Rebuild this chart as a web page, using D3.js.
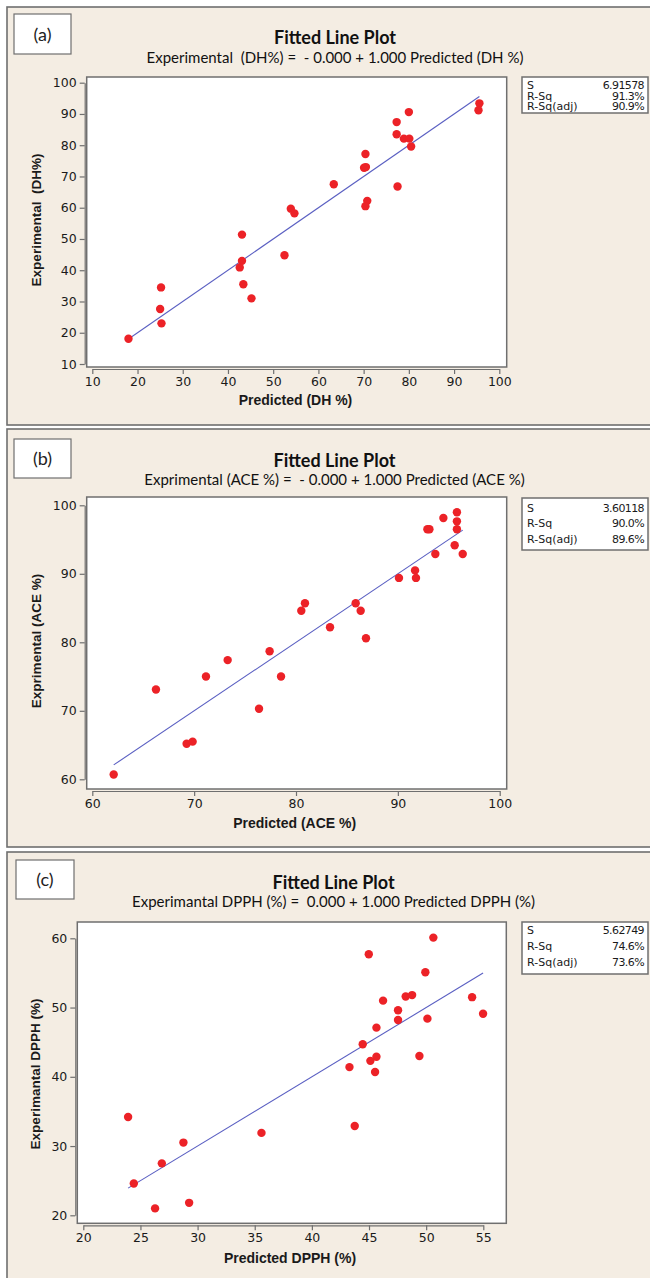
<!DOCTYPE html>
<html>
<head>
<meta charset="utf-8">
<script src="https://cdn.jsdelivr.net/npm/d3@7"></script>
<style>
  html, body { margin: 0; padding: 0; background: #ffffff; }
  svg { display: block; }
</style>
</head>
<body>
<svg id="chart" width="650" height="1278"></svg>
<script>
// ---- Panel (a): degree of hydrolysis ----
const dhPredicted    = [18.0, 25.2, 25.0, 25.3, 43.1, 43.1, 42.6, 43.4, 45.2, 52.5, 53.9, 54.7, 63.4, 70.4, 70.1, 70.5, 70.8, 70.4, 77.5, 77.3, 77.3, 80.0, 78.9, 80.1, 80.5, 95.6, 95.4];
const dhExperimental = [18.1, 34.5, 27.6, 23.0, 51.4, 43.0, 40.9, 35.5, 31.0, 44.8, 59.7, 58.2, 67.5, 77.2, 72.8, 73.0, 62.2, 60.5, 66.8, 87.4, 83.5, 90.6, 82.1, 82.1, 79.6, 93.4, 91.2];
const dhXTicks = [10, 20, 30, 40, 50, 60, 70, 80, 90, 100];
const dhYTicks = [10, 20, 30, 40, 50, 60, 70, 80, 90, 100];
const dhStats  = ["6.91578", "91.3%", "90.9%"];

// ---- Panel (b): ACE inhibition ----
const acePredicted    = [62.1, 66.25, 69.26, 69.85, 71.16, 73.29, 76.37, 77.41, 78.53, 80.52, 80.88, 83.34, 85.86, 86.35, 86.87, 90.11, 91.69, 91.78, 92.9, 93.1, 93.68, 94.47, 95.8, 95.8, 95.8, 95.58, 96.37];
const aceExperimental = [60.7, 73.1, 65.2, 65.5, 75.0, 77.4, 70.3, 78.7, 75.0, 84.6, 85.7, 82.2, 85.7, 84.6, 80.6, 89.4, 90.5, 89.4, 96.5, 96.5, 92.9, 98.15, 98.98, 97.66, 96.5, 94.16, 92.9];
const aceXTicks = [60, 70, 80, 90, 100];
const aceYTicks = [60, 70, 80, 90, 100];
const aceStats  = ["3.60118", "90.0%", "89.6%"];

// ---- Panel (c): DPPH scavenging ----
const dpphPredicted    = [23.92, 24.42, 26.28, 26.87, 28.76, 29.26, 35.59, 43.29, 43.75, 44.45, 44.98, 45.12, 45.65, 45.53, 45.65, 46.23, 47.54, 47.54, 48.21, 48.77, 49.41, 49.93, 50.11, 50.63, 54.02, 54.98];
const dpphExperimental = [34.2, 24.6, 21.0, 27.5, 30.5, 21.8, 31.9, 41.4, 32.9, 44.7, 57.7, 42.3, 42.9, 40.7, 47.1, 51.0, 49.6, 48.2, 51.6, 51.8, 43.0, 55.1, 48.4, 60.1, 51.5, 49.1];
const dpphXTicks = [20, 25, 30, 35, 40, 45, 50, 55];
const dpphYTicks = [20, 30, 40, 50, 60];
const dpphStats  = ["5.62749", "74.6%", "73.6%"];

// ---- Shared text ----
const panelLetters = ["(a)", "(b)", "(c)"];
const plotTitles   = ["Fitted Line Plot", "Fitted Line Plot", "Fitted Line Plot"];
const equations    = [
  "Experimental  (DH%) =  - 0.000 + 1.000 Predicted (DH %)",
  "Exprimental (ACE %) =  - 0.000 + 1.000 Predicted (ACE %)",
  "Experimantal DPPH (%) =  0.000 + 1.000 Predicted DPPH (%)"
];
const xTitles   = ["Predicted (DH %)", "Predicted (ACE %)", "Predicted DPPH (%)"];
const yTitles   = ["Experimental  (DH%)", "Exprimental (ACE %)", "Experimantal DPPH (%)"];
const statNames = ["S", "R-Sq", "R-Sq(adj)"];
const fitIntercepts = [-0.000, -0.000, 0.000];
const fitSlopes     = [1.000, 1.000, 1.000];

// ---- Layout of the three stacked panels ----
const layouts = [
  { top: 7, bottom: 425, box: [14, 14, 57, 40], titleY: 38, subY: 58, cx: 335,
    frame: [86.7, 77, 506.7, 367], xr: [92.3, 499.3], yr: [364, 82.7],
    legend: [522, 77, 648, 113], rows: [85, 95.5, 106],
    yTitle: [36, 220], xTitle: [295.5, 400] },
  { top: 429, bottom: 847, box: [14, 439, 57, 39], titleY: 461, subY: 480, cx: 334.5,
    frame: [86.7, 497, 506.7, 789], xr: [92.3, 499.7], yr: [779.3, 505.3],
    legend: [522, 498, 648, 550], rows: [508, 523, 539],
    yTitle: [35.5, 641], xTitle: [294.7, 823] },
  { top: 852, bottom: 1290, box: [16, 860, 58, 39], titleY: 883, subY: 902, cx: 333.6,
    frame: [77.3, 922, 506.3, 1223.3], xr: [83.3, 483.3], yr: [1215.3, 938.3],
    legend: [522, 922, 648, 974], rows: [930, 946, 962],
    yTitle: [34.5, 1074], xTitle: [290, 1258] }
];

const panels = [
  { px: dhPredicted,   py: dhExperimental,   xt: dhXTicks,   yt: dhYTicks,   stats: dhStats },
  { px: acePredicted,  py: aceExperimental,  xt: aceXTicks,  yt: aceYTicks,  stats: aceStats },
  { px: dpphPredicted, py: dpphExperimental, xt: dpphXTicks, yt: dpphYTicks, stats: dpphStats }
];

const BG = "#f4ede3";
const FRAME = "#6f6f6f";
const DOT = "#ec2227";
const FIT = "#5a5fc2";
const tickFont = "'DejaVu Sans', Verdana, sans-serif";
const titleFont = "Lato, 'Open Sans', sans-serif";
const axisTitleFont = "'Liberation Sans', Arial, sans-serif";

const svg = d3.select("#chart");

panels.forEach((p, i) => {
  const L = layouts[i];
  const g = svg.append("g");

  // panel background and border
  g.append("rect")
    .attr("x", 7).attr("y", L.top)
    .attr("width", 660).attr("height", L.bottom - L.top)
    .attr("fill", BG).attr("stroke", FRAME).attr("stroke-width", 1.6);

  // letter box
  g.append("rect")
    .attr("x", L.box[0]).attr("y", L.box[1]).attr("width", L.box[2]).attr("height", L.box[3])
    .attr("fill", "#ffffff").attr("stroke", FRAME).attr("stroke-width", 1.2);
  g.append("text")
    .attr("x", L.box[0] + L.box[2] / 2).attr("y", L.box[1] + L.box[3] / 2 + 6.5)
    .attr("text-anchor", "middle")
    .attr("font-family", titleFont).attr("font-size", 18).attr("fill", "#222")
    .text(panelLetters[i]);

  // titles
  g.append("text")
    .attr("x", L.cx).attr("y", L.titleY + 6)
    .attr("text-anchor", "middle")
    .attr("font-family", titleFont).attr("font-weight", "bold").attr("font-size", 18).attr("fill", "#111")
    .text(plotTitles[i]);
  g.append("text")
    .attr("x", L.cx).attr("y", L.subY + 5)
    .attr("text-anchor", "middle")
    .style("white-space", "pre")
    .attr("font-family", titleFont).attr("font-size", 15).attr("fill", "#111")
    .text(equations[i]);

  // scales
  const x = d3.scaleLinear().domain(d3.extent(p.xt)).range(L.xr);
  const y = d3.scaleLinear().domain(d3.extent(p.yt)).range(L.yr);

  // plot frame
  const [fx0, fy0, fx1, fy1] = L.frame;
  g.append("rect")
    .attr("x", fx0).attr("y", fy0).attr("width", fx1 - fx0).attr("height", fy1 - fy0)
    .attr("fill", "#ffffff").attr("stroke", FRAME).attr("stroke-width", 1.5);

  // axes sit just outside the frame
  const xAxis = g.append("g")
    .attr("transform", `translate(0,${fy1 + 2})`)
    .call(d3.axisBottom(x).tickValues(p.xt).tickSizeInner(5).tickSizeOuter(0).tickPadding(3));
  const yAxis = g.append("g")
    .attr("transform", `translate(${fx0 - 2},0)`)
    .call(d3.axisLeft(y).tickValues(p.yt).tickSizeInner(5).tickSizeOuter(0).tickPadding(3));
  [xAxis, yAxis].forEach(a => {
    a.selectAll("path.domain").attr("stroke", FRAME).attr("stroke-width", 1.2);
    a.selectAll(".tick line").attr("stroke", FRAME).attr("stroke-width", 1.2);
    a.selectAll(".tick text")
      .attr("font-family", tickFont).attr("font-size", 12.5).attr("fill", "#1a1a1a");
  });

  // axis titles
  g.append("text")
    .attr("x", L.xTitle[0]).attr("y", L.xTitle[1] + 5)
    .attr("text-anchor", "middle")
    .attr("font-family", axisTitleFont).attr("font-weight", "bold").attr("font-size", 14).attr("fill", "#1a1a1a")
    .text(xTitles[i]);
  g.append("text")
    .attr("transform", `translate(${L.yTitle[0] + 5},${L.yTitle[1]}) rotate(-90)`)
    .attr("text-anchor", "middle").style("white-space", "pre")
    .attr("font-family", axisTitleFont).attr("font-weight", "bold").attr("font-size", 13.5).attr("fill", "#1a1a1a")
    .text(yTitles[i]);

  // fitted line over the range of predicted values
  const xMin = d3.min(p.px), xMax = d3.max(p.px);
  const fit = v => fitIntercepts[i] + fitSlopes[i] * v;
  g.append("line")
    .attr("x1", x(xMin)).attr("y1", y(fit(xMin)))
    .attr("x2", x(xMax)).attr("y2", y(fit(xMax)))
    .attr("stroke", FIT).attr("stroke-width", 1.1);

  // observations
  g.append("g").selectAll("circle")
    .data(p.px.map((v, k) => [v, p.py[k]]))
    .join("circle")
    .attr("cx", d => x(d[0])).attr("cy", d => y(d[1]))
    .attr("r", 4.2).attr("fill", DOT);

  // summary box
  const [lx0, ly0, lx1, ly1] = L.legend;
  g.append("rect")
    .attr("x", lx0).attr("y", ly0).attr("width", lx1 - lx0).attr("height", ly1 - ly0)
    .attr("fill", "#ffffff").attr("stroke", FRAME).attr("stroke-width", 1.5);
  statNames.forEach((name, k) => {
    g.append("text")
      .attr("x", lx0 + 5).attr("y", L.rows[k] + 4)
      .attr("font-family", tickFont).attr("font-size", 11).attr("fill", "#1a1a1a")
      .text(name);
    g.append("text")
      .attr("x", lx1 - 4).attr("y", L.rows[k] + 4)
      .attr("text-anchor", "end")
      .attr("font-family", tickFont).attr("font-size", 11).attr("letter-spacing", -0.6).attr("fill", "#1a1a1a")
      .text(p.stats[k]);
  });
});
</script>
</body>
</html>
